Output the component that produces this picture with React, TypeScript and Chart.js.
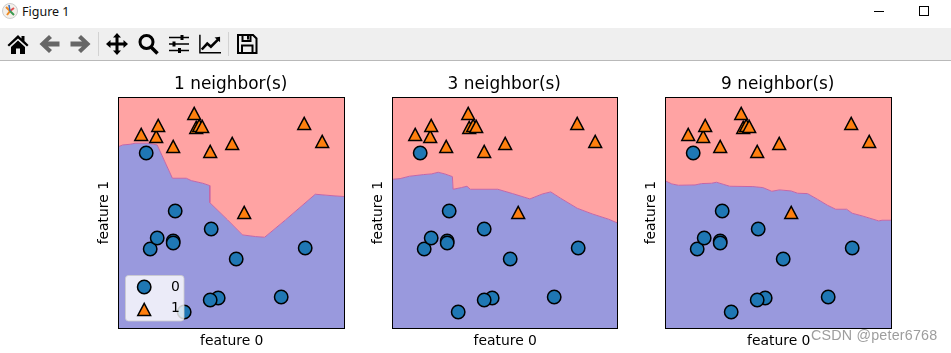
import React, { useEffect, useRef } from "react";
import { Chart, registerables } from "chart.js";

Chart.register(...registerables);

const class0X = [11.033, 8.693, 8.106, 9.673, 8.689, 8.922, 8.184, 8.734, 10.064, 9.5, 8.345, 9.502, 11.564];
const class0Y = [-0.168, 1.543, 4.287, -0.203, 1.487, -0.64, 1.296, 2.492, 0.991, -0.264, 1.638, 1.938, 1.339];
const class1X = [9.963, 11.542, 8.31, 11.93, 8.348, 8.675, 9.177, 10.24, 9.491, 9.257, 7.998, 9.323, 9.151];
const class1Y = [4.597, 5.211, 4.806, 4.649, 5.134, 4.476, 5.093, 2.455, 4.332, 5.133, 4.853, 5.098, 5.498];

const edge1X = [7.498, 7.592, 7.75, 7.858, 8.146, 8.34, 8.672, 8.974, 9.082, 9.334, 9.485, 9.485, 9.874, 10.198, 10.486, 10.68, 11.134, 11.782, 12.214, 12.43];
const edge1Y = [4.472, 4.524, 4.544, 4.575, 4.575, 4.524, 3.493, 3.493, 3.42, 3.338, 3.266, 2.74, 2.204, 1.74, 1.688, 1.668, 2.204, 2.998, 2.946, 2.925];
const edge3X = [7.498, 7.665, 7.867, 7.99, 8.171, 8.352, 8.497, 8.642, 8.808, 8.823, 9.004, 9.127, 9.199, 9.8, 10.126, 10.503, 10.778, 10.959, 11.176, 11.538, 11.864, 12.226, 12.43];
const edge3Y = [3.462, 3.482, 3.555, 3.575, 3.606, 3.627, 3.678, 3.627, 3.544, 3.152, 3.204, 3.245, 3.152, 3.152, 3.018, 2.853, 3.008, 3.07, 2.874, 2.565, 2.39, 2.225, 2.101];
const edge9X = [7.498, 7.635, 7.779, 8.14, 8.284, 8.5, 8.608, 8.753, 8.897, 9.401, 9.618, 9.812, 9.978, 10.23, 10.375, 10.591, 10.807, 11.024, 11.204, 11.442, 11.564, 11.78, 12.141, 12.213, 12.43];
const edge9Y = [3.41, 3.317, 3.276, 3.286, 3.328, 3.338, 3.369, 3.307, 3.245, 3.235, 3.204, 3.09, 3.132, 3.101, 3.029, 3.018, 2.843, 2.658, 2.534, 2.534, 2.41, 2.328, 2.173, 2.194, 2.194];

const xRange = [7.498, 12.43];
const yRange = [-1.14, 5.998];
const titles = ["1 neighbor(s)", "3 neighbor(s)", "9 neighbor(s)"];
const classLabels = ["0", "1"];
const axisLabels = ["feature 0", "feature 1"];

const FONT = "'DejaVu Sans'";

function zip(xs: number[], ys: number[]) {
  return xs.map((x, i) => ({ x, y: ys[i] }));
}

function marker(kind: "circle" | "triangle", fill: string) {
  const c = document.createElement("canvas");
  c.width = 20;
  c.height = 20;
  const g = c.getContext("2d")!;
  g.fillStyle = fill;
  g.strokeStyle = "#000";
  g.lineWidth = 1.5;
  g.lineJoin = "miter";
  g.miterLimit = 10;
  g.beginPath();
  if (kind === "circle") {
    g.arc(10.2, 10, 6.7, 0, Math.PI * 2);
  } else {
    g.moveTo(10.2, 4.45);
    g.lineTo(16.6, 16.45);
    g.lineTo(3.8, 16.45);
    g.closePath();
  }
  g.fill();
  g.stroke();
  return c;
}

const framePlugin = {
  id: "frame",
  beforeDraw(chart: any) {
    const { ctx, chartArea: a } = chart;
    ctx.imageSmoothingEnabled = false;
    if (chart.titleBlock) {
      chart.titleBlock.left = a.left - 1;
      chart.titleBlock.right = a.right - 1;
    }
    const lg = chart.legend;
    if (lg && lg.options.display) {
      const fx = a.left + 7, fy = a.bottom - 52.5, fw = 58.5, fh = 45.5;
      lg.left = fx - 9.5;
      lg.top = fy - 3.5;
      lg.bottom = fy + fh + 10;
      lg.right = fx + fw;
    }
  },
  afterDatasetsDraw(chart: any) {
    const { ctx, chartArea: a } = chart;
    ctx.save();
    ctx.strokeStyle = "#000";
    ctx.lineWidth = 1;
    ctx.strokeRect(Math.floor(a.left) + 0.5, Math.round(a.top) + 0.5, Math.floor(a.right - 0.9) - Math.floor(a.left), Math.round(a.bottom - a.top));
    const lg = chart.legend;
    if (lg && lg.options.display) {
      const fx = a.left + 7, fy = a.bottom - 52.5, fw = 58.5, fh = 45.5;
      ctx.beginPath();
      ctx.roundRect(fx, fy, fw, fh, 3);
      ctx.fillStyle = "rgba(255,255,255,0.8)";
      ctx.fill();
      ctx.strokeStyle = "rgba(204,204,204,0.8)";
      ctx.stroke();
      lg.draw();
    }
    ctx.restore();
  },
};

function Panel({ left, plotW, title, edgeX, edgeY, legend }: any) {
  const ref = useRef<HTMLCanvasElement>(null);
  useEffect(() => {
    const circle = marker("circle", "#1f77b4");
    const tri = marker("triangle", "#ff7f0e");
    const edge = zip(edgeX, edgeY);
    const chart = new Chart(ref.current!, {
      type: "scatter",
      plugins: [framePlugin],
      data: {
        datasets: [
          { label: classLabels[1], data: zip(class1X, class1Y), pointStyle: tri as any, pointRadius: 10, backgroundColor: "#ff7f0e", order: 1 },
          { label: classLabels[0], data: zip(class0X, class0Y), pointStyle: circle as any, pointRadius: 10, backgroundColor: "#1f77b4", order: 2 },
          { label: "blue", data: edge, showLine: true, pointRadius: 0, borderColor: "#c466a6", borderWidth: 1, backgroundColor: "#9999dd", fill: "start", order: 3, tension: 0 },
          { label: "red", data: edge, showLine: true, pointRadius: 0, borderWidth: 0, backgroundColor: "#ffa3a3", fill: "end", order: 4, tension: 0 },
        ],
      } as any,
      options: {
        animation: false,
        responsive: false,
        events: [],
        layout: { padding: { top: 4, right: 7.9, left: 0, bottom: 0 } },
        scales: {
          x: {
            type: "linear", min: xRange[0], max: xRange[1],
            ticks: { display: false }, grid: { display: false }, border: { display: false },
            title: { display: true, text: axisLabels[0], color: "#000", font: { family: FONT, size: 13.9 }, padding: { top: 4, bottom: 3 } },
            afterFit: (s: any) => { s.height = 25; },
          },
          y: {
            type: "linear", min: yRange[0], max: yRange[1],
            ticks: { display: false }, grid: { display: false }, border: { display: false },
            title: { display: true, text: axisLabels[1], color: "#000", font: { family: FONT, size: 13.9 }, padding: { top: 6, bottom: 3 } },
            afterFit: (s: any) => { s.width = 28.5; },
          },
        },
        plugins: {
          tooltip: { enabled: false },
          title: { display: true, text: title, color: "#000", font: { family: FONT, size: 16.9, weight: "normal" }, padding: { top: 0, bottom: 3 } },
          legend: legend
            ? {
                display: true, position: "chartArea", align: "start",
                labels: {
                  usePointStyle: true, pointStyleWidth: 40, padding: 8, color: "#000", textAlign: "left",
                  font: { family: FONT, size: 13.9 },
                  filter: (it: any) => classLabels.includes(it.text),
                  sort: (a: any, b: any) => Number(a.text) - Number(b.text),
                },
              }
            : { display: false },
        },
      } as any,
    });
    return () => chart.destroy();
  }, []);
  const canvasW = 28 + plotW + 10;
  return (
    <canvas
      ref={ref}
      width={canvasW}
      height={283}
      style={{ position: "absolute", left: left - 28, top: 70, width: canvasW, height: 283 }}
    />
  );
}

const btn = { position: "absolute" as const, top: 33, width: 22, height: 22 };

function Toolbar() {
  const gray = "#666";
  return (
    <div style={{ position: "absolute", left: 0, top: 0, width: 951, height: 61 }}>
      <svg style={{ position: "absolute", left: 2, top: 3 }} width="16" height="16" viewBox="0 0 16 16">
        <circle cx="8" cy="8" r="7.5" fill="#f4f0ea" stroke="#ccc" />
        <path d="M4 4 L8 8 L5 12" stroke="#f08a24" strokeWidth="2" fill="none" />
        <path d="M8 8 L12 5" stroke="#e05050" strokeWidth="2" />
        <path d="M8 8 L12 12" stroke="#3a9a50" strokeWidth="2" />
        <path d="M8 8 L7 2" stroke="#3a70c0" strokeWidth="1.5" />
      </svg>
      <div style={{ position: "absolute", left: 22, top: 3, fontFamily: "'Noto Sans'", fontSize: 12.5, lineHeight: "17px", color: "#111" }}>Figure 1</div>
      <div style={{ position: "absolute", left: 874, top: 11, width: 10, height: 1, background: "#000" }} />
      <div style={{ position: "absolute", left: 919, top: 6, width: 8, height: 8, border: "1px solid #000" }} />
      <div style={{ position: "absolute", left: 0, top: 28, width: 951, height: 32, background: "#efefef", borderBottom: "1px solid #b9b9b9" }} />
      <div style={{ position: "absolute", left: 98, top: 32, width: 1, height: 24, background: "#d2d2d2" }} />
      <div style={{ position: "absolute", left: 228, top: 32, width: 1, height: 24, background: "#d2d2d2" }} />
      <svg style={{ ...btn, left: 7 }} viewBox="0 0 22 22"><path d="M11 2 L0.5 12 L2 13.5 L11 5.5 L20 13.5 L21.5 12 L17.5 8 V3 H14.5 V5.5 Z M4 14 L11 7.5 L18 14 V21 H13 V15.5 H9 V21 H4 Z" fill="#000" /></svg>
      <svg style={{ ...btn, left: 39 }} viewBox="0 0 22 22"><path d="M0.5 11 L10 2 L13 5 L9 8.5 H20.5 V13.5 H9 L13 17 L10 20 Z" fill={gray} /></svg>
      <svg style={{ ...btn, left: 69 }} viewBox="0 0 22 22"><path d="M21.5 11 L12 2 L9 5 L13 8.5 H1.5 V13.5 H13 L9 17 L12 20 Z" fill={gray} /></svg>
      <svg style={{ ...btn, left: 106 }} viewBox="0 0 22 22"><path d="M11 0 L15 4.5 H12.5 V9.5 H17.5 V7 L22 11 L17.5 15 V12.5 H12.5 V17.5 H15 L11 22 L7 17.5 H9.5 V12.5 H4.5 V15 L0 11 L4.5 7 V9.5 H9.5 V4.5 H7 Z" fill="#000" /></svg>
      <svg style={{ ...btn, left: 137 }} viewBox="0 0 22 22"><circle cx="9.5" cy="9" r="6.5" fill="none" stroke="#000" strokeWidth="3" /><path d="M14 14 L20.5 20.5" stroke="#000" strokeWidth="3.5" /></svg>
      <svg style={{ ...btn, left: 168 }} viewBox="0 0 22 22"><path d="M1 4.5 H21 M1 11 H21 M1 17.5 H21" stroke="#000" strokeWidth="1.3" /><path d="M12.5 2 h3 v5 h-3z M4.5 8.5 h3 v5 h-3z M10 15 h3 v5 h-3z" fill="#000" /></svg>
      <svg style={{ ...btn, left: 199 }} viewBox="0 0 24 22"><path d="M1 1 V20.5 H24" stroke="#000" strokeWidth="1.6" fill="none" /><path d="M3 17 L9 10.5 L13 14 L21 6" stroke="#000" strokeWidth="2.8" fill="none" /><path d="M23 3 V9 L17 4 Z" fill="#000" /></svg>
      <svg style={{ ...btn, left: 236 }} viewBox="0 0 22 22"><path d="M2 2 H17 L20.5 5.5 V20 H2 Z" fill="none" stroke="#000" strokeWidth="2" /><path d="M6.5 2 V8 H14.5 V2 M6 20 V12.5 H16.5 V20" fill="none" stroke="#000" strokeWidth="2" /><rect x="11" y="3" width="2" height="3.5" /></svg>
    </div>
  );
}

export default function App() {
  return (
    <div style={{ position: "absolute", left: 0, top: 0, width: 951, height: 353, background: "#fff", overflow: "hidden" }}>
      <Toolbar />
      <Panel left={118} plotW={228} title={titles[0]} edgeX={edge1X} edgeY={edge1Y} legend />
      <Panel left={392} plotW={227} title={titles[1]} edgeX={edge3X} edgeY={edge3Y} />
      <Panel left={665} plotW={228} title={titles[2]} edgeX={edge9X} edgeY={edge9Y} />
      <div style={{ position: "absolute", left: 811, top: 327, fontFamily: "'Liberation Sans'", fontSize: 14.3, lineHeight: "17px", color: "rgba(140,140,140,0.85)", letterSpacing: 0.2, whiteSpace: "nowrap" }}>CSDN @peter6768</div>
    </div>
  );
}
